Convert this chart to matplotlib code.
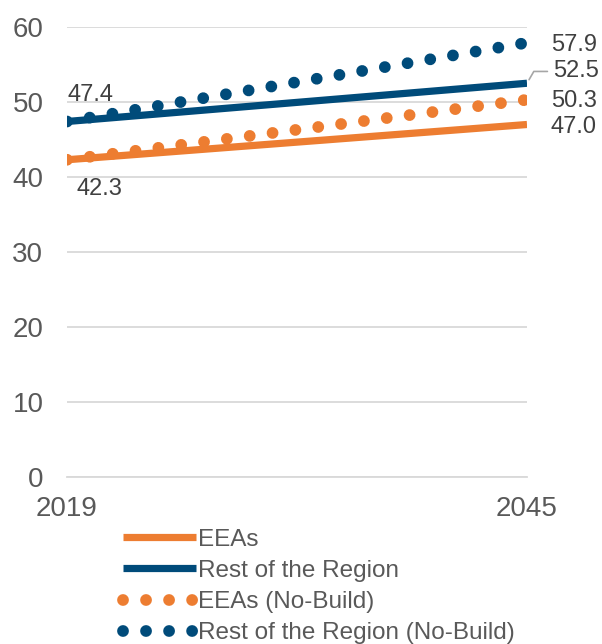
import matplotlib
matplotlib.use("Agg")
import matplotlib.pyplot as plt

years = [2019, 2045]
eeas = [42.3, 47.0]
rest = [47.4, 52.5]
eeas_nb = [42.3, 50.3]
rest_nb = [47.4, 57.9]
yticks = [0, 10, 20, 30, 40, 50, 60]

orange = "#ED7D31"
navy = "#004B7A"
grey = "#595959"

plt.rcParams["font.family"] = ["Liberation Sans", "DejaVu Sans"]

fig = plt.figure(figsize=(6.02, 6.44), dpi=100)
ax = fig.add_axes([67 / 602, 1 - 477 / 644, 460 / 602, 450 / 644])

# dash lengths scale with line width; spacing tuned so the last dot lands on 2045
dotted = (0, (0.001, 1.95))
ax.plot(years, eeas, color=orange, lw=5.2, solid_capstyle="butt", label="EEAs", zorder=3)
ax.plot(years, rest, color=navy, lw=5.2, solid_capstyle="butt", label="Rest of the Region", zorder=3)
ax.plot(years, eeas_nb, color=orange, linestyle=dotted, lw=8.5, dash_capstyle="round",
        label="EEAs (No-Build)", zorder=4)
ax.plot(years, rest_nb, color=navy, linestyle=dotted, lw=8.5, dash_capstyle="round",
        label="Rest of the Region (No-Build)", zorder=4)

ax.set_xlim(years[0], years[-1])
ax.set_ylim(0, 60)
ax.set_yticks(yticks)
ax.set_xticks(years)
ax.grid(axis="y", color="#d9d9d9", lw=1.3)
ax.set_axisbelow(True)
for s in ["top", "right", "left"]:
    ax.spines[s].set_visible(False)
ax.spines["bottom"].set_color("#d9d9d9")
ax.spines["bottom"].set_linewidth(1.3)
ax.tick_params(length=0, labelsize=20, labelcolor=grey, pad=17)
ax.tick_params(axis="x", pad=14)

lab = dict(fontsize=17, color="#404040", annotation_clip=False)
ax.annotate(f"{rest[0]:.1f}", (years[0], rest[0]), xytext=(0, 11), textcoords="offset points", ha="left", va="bottom", **lab)
ax.annotate(f"{eeas[0]:.1f}", (years[0], eeas[0]), xytext=(7, -13), textcoords="offset points", ha="left", va="top", **lab)
ax.annotate(f"{rest_nb[-1]:.1f}", (years[-1], rest_nb[-1]), xytext=(17, -1.9), textcoords="offset points", ha="left", va="center", **lab)
ax.annotate(f"{rest[-1]:.1f}", (years[-1], rest[-1]), xytext=(18.7, 8.5), textcoords="offset points", ha="left", va="center",
            arrowprops=dict(arrowstyle="-", color="#a6a6a6", lw=1.2, connectionstyle="angle,angleA=0,angleB=60,rad=0",
                            shrinkA=2, shrinkB=3), **lab)
ax.annotate(f"{eeas_nb[-1]:.1f}", (years[-1], eeas_nb[-1]), xytext=(17, -1.2), textcoords="offset points", ha="left", va="center", **lab)
ax.annotate(f"{eeas[-1]:.1f}", (years[-1], eeas[-1]), xytext=(17, -2.1), textcoords="offset points", ha="left", va="center", **lab)

fig.legend(loc="upper left", bbox_to_anchor=(113 / 602, 1 - 519 / 644), frameon=False,
           fontsize=17.5, labelcolor=grey, handlelength=3.0, handletextpad=0.1,
           labelspacing=0.38, borderaxespad=0)

fig.savefig("out.png", dpi=100)
